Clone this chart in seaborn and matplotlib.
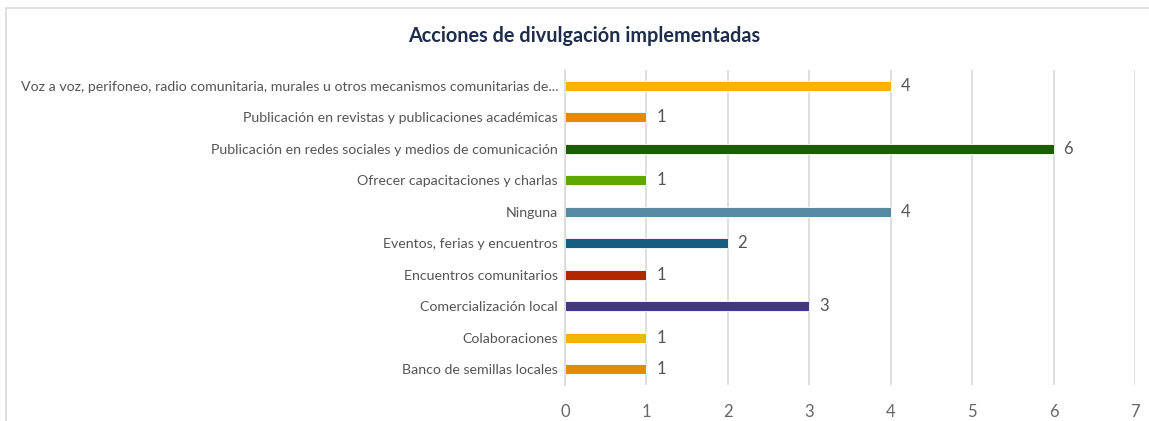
import matplotlib
matplotlib.use("Agg")
import matplotlib.pyplot as plt
import seaborn as sns
import pandas as pd
from matplotlib.patches import Rectangle

categories = [
    "Voz a voz, perifoneo, radio comunitaria, murales u otros mecanismos comunitarias de...",
    "Publicación en revistas y publicaciones académicas",
    "Publicación en redes sociales y medios de comunicación",
    "Ofrecer capacitaciones y charlas",
    "Ninguna",
    "Eventos, ferias y encuentros",
    "Encuentros comunitarios",
    "Comercialización local",
    "Colaboraciones",
    "Banco de semillas locales",
]
values = [4, 1, 6, 1, 4, 2, 1, 3, 1, 1]
colors = ["#F4B400", "#E68A00", "#1A5E00", "#5FA800", "#5889A3",
          "#155E80", "#B22600", "#433882", "#F4B400", "#E68A00"]
xticks = [0, 1, 2, 3, 4, 5, 6, 7]
title = "Acciones de divulgación implementadas"

sns.set_theme(style="white")
plt.rcParams["font.family"] = ["Lato", "DejaVu Sans"]

df = pd.DataFrame({"cat": categories, "val": values})

fig = plt.figure(figsize=(11.49, 4.21), dpi=100)
ax = fig.add_axes([565/1149, 1 - 385/421, (1135-565)/1149, (385-70)/421])

sns.barplot(data=df, y="cat", x="val", hue="cat", palette=colors, order=categories,
            hue_order=categories, legend=False, width=0.32, ax=ax, saturation=1,
            edgecolor="white", linewidth=0.6, dodge=False)

ax.set_xlim(0, 7)
ax.set_xticks(xticks)
ax.set_xticklabels([str(t) for t in xticks], fontsize=12, color="#666666")
ax.tick_params(axis="x", length=0, pad=14)
ax.tick_params(axis="y", length=0, pad=5, labelsize=10.2, labelcolor="#555555")
ax.xaxis.grid(True, color="#D9D9D9", linewidth=1.2)
ax.set_axisbelow(True)
for s in ["top", "right", "bottom"]:
    ax.spines[s].set_visible(False)
ax.spines["left"].set_color("#D9D9D9")
ax.spines["left"].set_linewidth(1.2)
ax.set_xlabel("")
ax.set_ylabel("")

for i, v in enumerate(values):
    ax.text(v + 0.12, i, str(v), va="center", ha="left", fontsize=12, color="#555555")

fig.text(584/1149, 1 - 36/421, title, ha="center", va="center", fontsize=14.3,
         fontweight="bold", color="#1F2D4A")

fig.patches.append(Rectangle((6/1149, -0.1), 1.2, 1 - 8/421 + 0.1, transform=fig.transFigure,
                             fill=False, edgecolor="#D9D9D9", linewidth=1.2, zorder=0))

fig.savefig("out.png", dpi=100)
